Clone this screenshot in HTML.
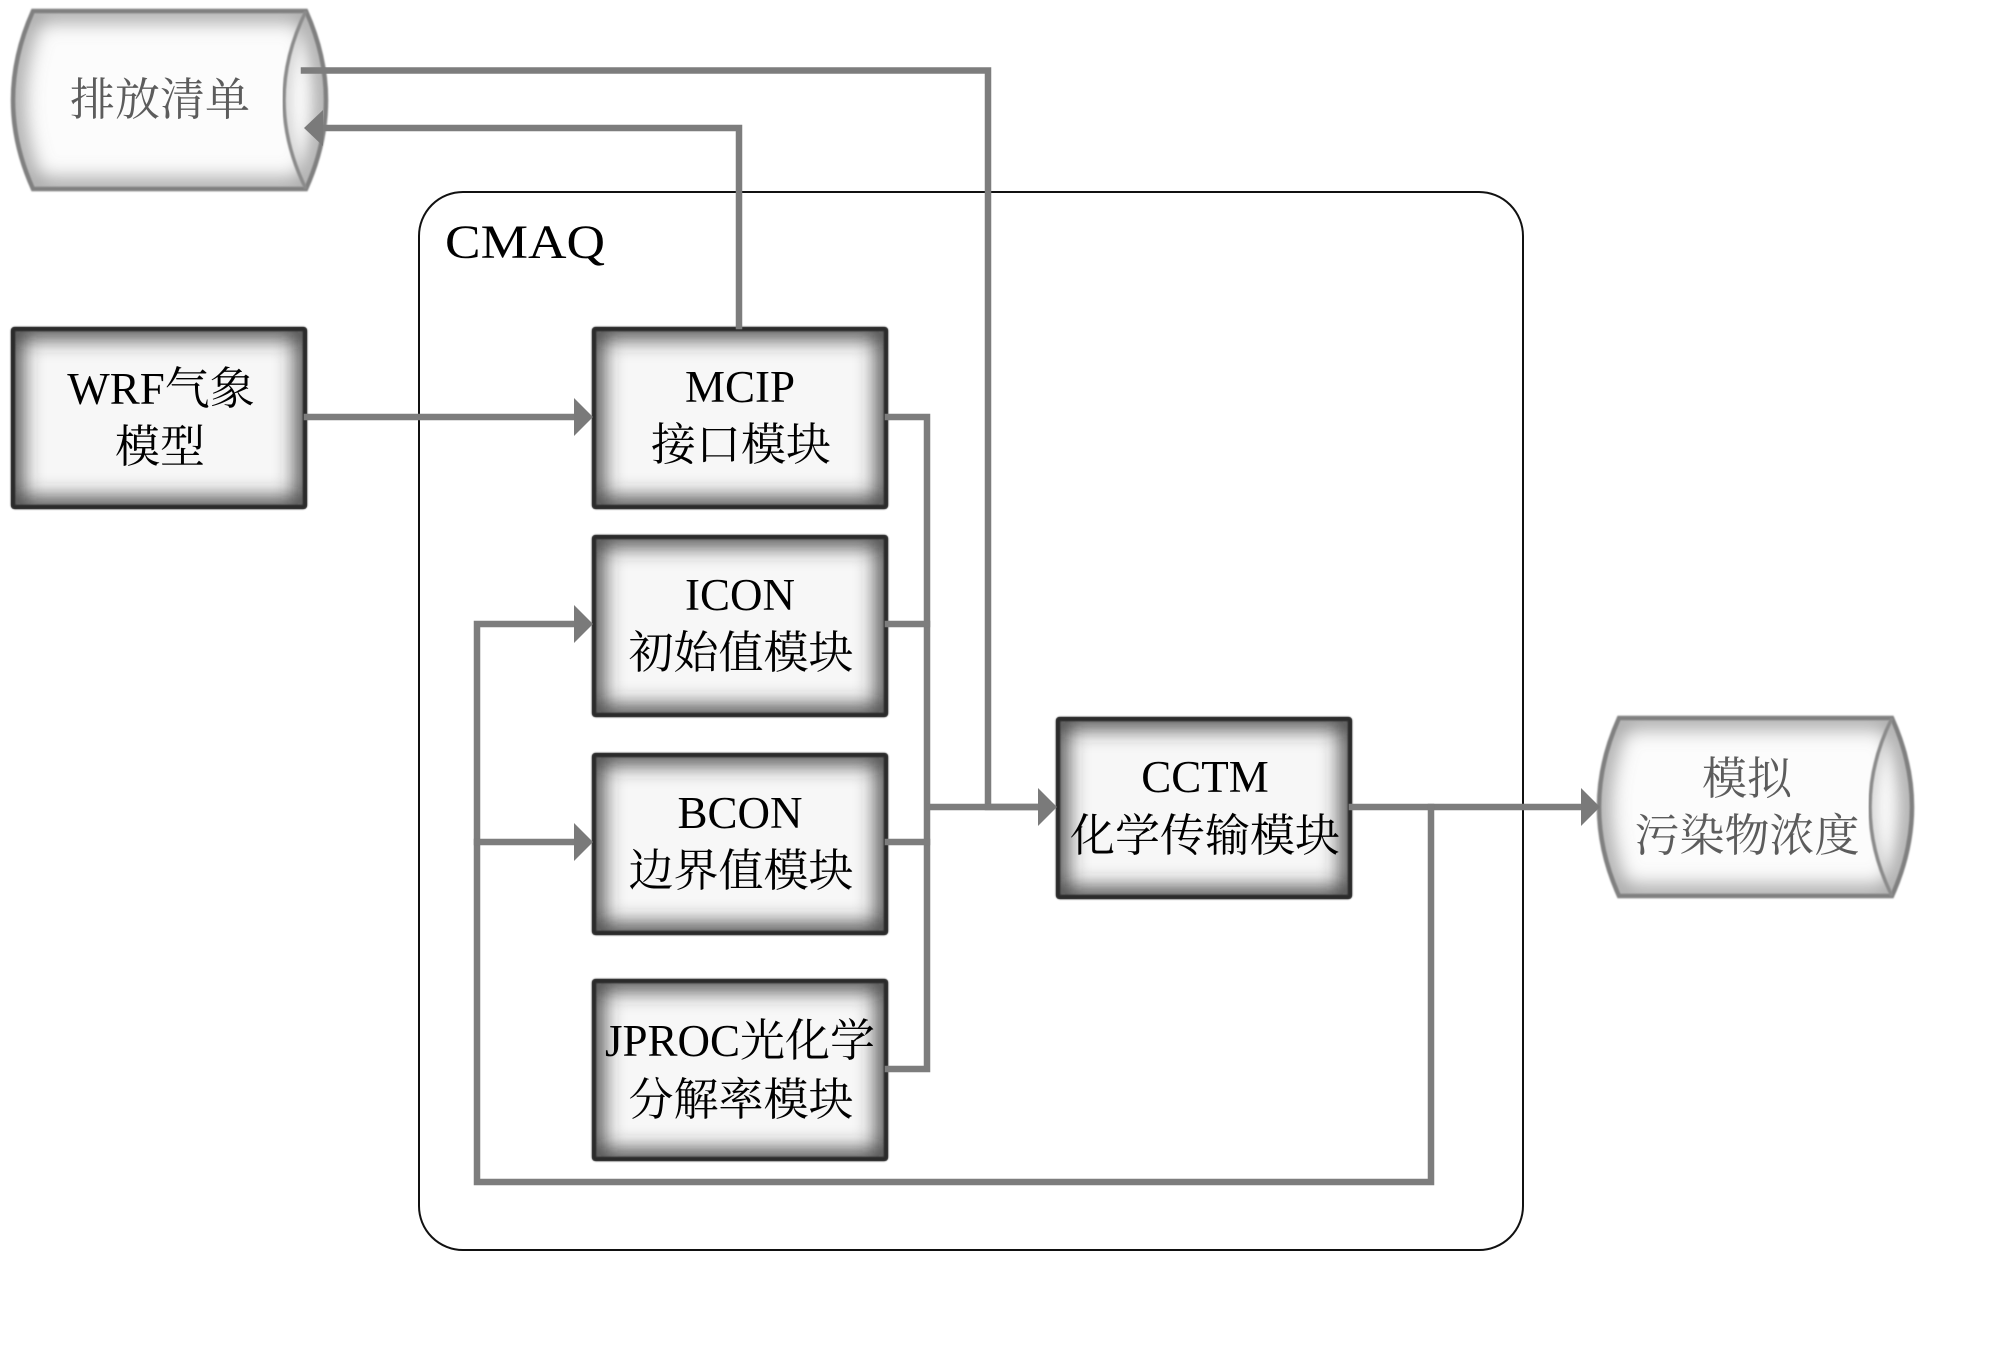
<!DOCTYPE html>
<html lang="zh">
<head>
<meta charset="utf-8">
<title>CMAQ</title>
<style>
html,body{margin:0;padding:0;background:#fff}
svg{display:block}
text{font-family:"Liberation Serif","Noto Serif CJK SC",serif;font-size:45px;fill:#000;text-anchor:middle}
text.g{fill:#5c5c5c}
</style>
</head>
<body>
<svg xmlns="http://www.w3.org/2000/svg" width="2000" height="1350" viewBox="0 0 2000 1350">
<defs>
  <filter id="b9" x="-25%" y="-25%" width="150%" height="150%"><feGaussianBlur stdDeviation="11"/></filter>
  <filter id="b1" x="-5%" y="-5%" width="110%" height="110%"><feGaussianBlur stdDeviation="0.8"/></filter>
  <filter id="b5" x="-40%" y="-20%" width="180%" height="140%"><feGaussianBlur stdDeviation="7"/></filter>
  <clipPath id="cr"><rect x="0" y="0" width="296" height="182" rx="3"/></clipPath>
  <clipPath id="cc"><path d="M33,11 L306,11 Q346,100 306,189 L33,189 Q-7,100 33,11 Z"/></clipPath>
  <clipPath id="ce"><path d="M306,11 Q346,100 306,189 Q262,100 306,11 Z"/></clipPath>
  <g id="box">
    <rect x="0" y="0" width="296" height="182" rx="3" fill="#f7f7f7"/>
    <g clip-path="url(#cr)">
      <rect x="0" y="0" width="296" height="182" fill="none" stroke="#2e2e2e" stroke-width="20" filter="url(#b9)"/>
    </g>
    <rect x="2" y="2" width="292" height="178" rx="2" fill="none" stroke="#2a2a2a" stroke-width="4.5" filter="url(#b1)"/>
  </g>
  <g id="cyl">
    <path d="M33,11 L306,11 Q346,100 306,189 L33,189 Q-7,100 33,11 Z" fill="#fcfcfc"/>
    <g clip-path="url(#cc)">
      <path d="M33,11 L306,11 Q346,100 306,189 L33,189 Q-7,100 33,11 Z" fill="none" stroke="#858585" stroke-width="16" filter="url(#b9)"/>
    </g>
    <g clip-path="url(#ce)">
      <path d="M306,11 Q346,100 306,189 Q262,100 306,11 Z" fill="none" stroke="#b5b5b5" stroke-width="8" filter="url(#b5)"/>
    </g>
    <path d="M33,11 L306,11 Q346,100 306,189 L33,189 Q-7,100 33,11 Z" fill="none" stroke="#808080" stroke-width="4.5" filter="url(#b1)"/>
    <path d="M306,11 Q262,100 306,189" fill="none" stroke="#8a8a8a" stroke-width="3.5" filter="url(#b1)"/>
  </g>
</defs>

<rect width="2000" height="1350" fill="#fff"/>

<!-- CMAQ container -->
<rect x="419" y="192" width="1104" height="1058" rx="44" ry="44" fill="none" stroke="#111" stroke-width="2"/>
<text x="445" y="258" textLength="160" lengthAdjust="spacingAndGlyphs" style="font-size:48px;text-anchor:start">CMAQ</text>

<!-- cylinders -->
<use href="#cyl" x="0" y="0"/>
<use href="#cyl" x="1586" y="707"/>

<!-- boxes -->
<use href="#box" x="11" y="327"/>
<use href="#box" x="592" y="327"/>
<use href="#box" x="592" y="535"/>
<use href="#box" x="592" y="753"/>
<use href="#box" x="592" y="979"/>
<use href="#box" x="1056" y="717"/>

<!-- connectors -->
<g fill="none" stroke="#7d7d7d" stroke-width="6.5" stroke-linejoin="miter" stroke-linecap="square">
  <path d="M304,70.500 H988 V807 H1040"/>
  <path d="M322,128 H739 V326"/>
  <path d="M307,417 H576"/>
  <path d="M888,417 H927 V1069 H888"/>
  <path d="M888,624 H927"/>
  <path d="M888,842 H927"/>
  <path d="M930,807 H1040"/>
  <path d="M1352,807 H1584"/>
  <path d="M1431,807 V1182 H477 V624 H576"/>
  <path d="M477,842 H576"/>
</g>

<!-- arrowheads -->
<g fill="#7a7a7a">
  <polygon points="304,128 323,110 323,146"/>
  <polygon points="593,417 574,398 574,436"/>
  <polygon points="593,624 574,605 574,643"/>
  <polygon points="593,842 574,823 574,861"/>
  <polygon points="1057,807 1038,788 1038,826"/>
  <polygon points="1600,807 1581,788 1581,826"/>
</g>

<!-- labels -->
<text class="g" x="160" y="115">排放清单</text>

<text x="161" y="404">WRF气象</text>
<text x="160" y="462">模型</text>

<text x="740" y="402">MCIP</text>
<text x="741" y="460">接口模块</text>

<text x="740" y="610">ICON</text>
<text x="741" y="668">初始值模块</text>

<text x="740" y="828">BCON</text>
<text x="741" y="886">边界值模块</text>

<text x="740" y="1056">JPROC光化学</text>
<text x="741" y="1115">分解率模块</text>

<text x="1205" y="792">CCTM</text>
<text x="1205" y="851">化学传输模块</text>

<text class="g" x="1747" y="794">模拟</text>
<text class="g" x="1747" y="851">污染物浓度</text>
</svg>
</body>
</html>
